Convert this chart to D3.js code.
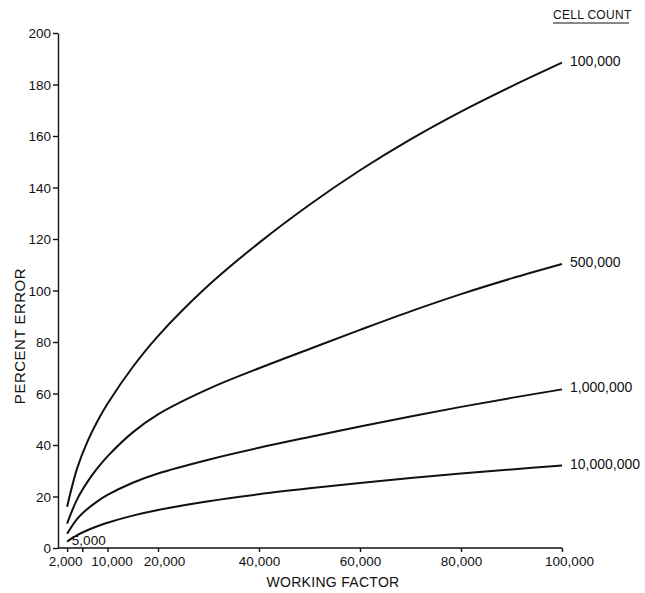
<!DOCTYPE html>
<html>
<head>
<meta charset="utf-8">
<script src="https://cdn.jsdelivr.net/npm/d3@7"></script>
<style>
  body { margin: 0; background: #fff; }
  svg { display: block; }
  text { font-family: "Liberation Sans", Arial, sans-serif; fill: #111; }
  .axis path, .axis line { stroke: #111; stroke-width: 1.4; }
</style>
</head>
<body>
<div id="chart"></div>
<script>
// working factor (x) sample points
var workingFactor = [2000, 4000, 6000, 8000, 10000, 15000, 20000, 30000, 40000, 50000, 60000, 70000, 80000, 90000, 100000];

// percent error for each cell count
var err100k = [16, 31, 41.2, 49.2, 56, 70.3, 82.3, 102, 118.5, 133.3, 146.7, 158.7, 169.5, 179.3, 188.5];
var err500k = [9.5, 19, 25.6, 31, 35.6, 44.9, 51.9, 61.8, 69.8, 77.3, 84.7, 91.9, 98.6, 104.7, 110.3];
var err1m = [5.5, 11.3, 15.1, 18.1, 20.6, 25.35, 28.95, 34.3, 38.9, 43.1, 47.2, 51.1, 54.8, 58.3, 61.6];
var err10m = [2.5, 5, 6.9, 8.46, 9.82, 12.57, 14.77, 18.17, 20.87, 23.17, 25.27, 27.17, 28.92, 30.52, 32];

var cellCounts = ["100,000", "500,000", "1,000,000", "10,000,000"];

var xTicks = [2000, 5000, 10000, 20000, 40000, 60000, 80000, 100000];
var xTickLabels = ["2,000", "5,000", "10,000", "20,000", "40,000", "60,000", "80,000", "100,000"];
var yTicks = [0, 20, 40, 60, 80, 100, 120, 140, 160, 180, 200];

var width = 645, height = 593;

var svg = d3.select("#chart").append("svg")
  .attr("width", width)
  .attr("height", height);

var x = d3.scaleLinear().domain([0, 100000]).range([57, 562]);
var y = d3.scaleLinear().domain([0, 200]).range([548, 33]);

// y axis
var yAxis = svg.append("g")
  .attr("class", "axis")
  .attr("transform", "translate(58,0)")
  .call(d3.axisLeft(y).tickValues(yTicks).tickSize(5).tickSizeOuter(0).tickPadding(2));
yAxis.selectAll("text")
  .style("font-size", "13.5px")
  .attr("dy", "0.36em");

// x axis
var labelShift = {2000: -2, 10000: 4, 20000: 6, 100000: 7};
var xAxis = svg.append("g")
  .attr("class", "axis")
  .attr("transform", "translate(0,548)")
  .call(d3.axisBottom(x).tickValues(xTicks).tickSize(4).tickSizeOuter(0)
    .tickFormat(function (d) { return xTickLabels[xTicks.indexOf(d)]; }));
xAxis.select(".domain").attr("d", "M" + 58 + ",0H" + x(100000));
xAxis.selectAll("text")
  .style("font-size", "13.5px")
  .attr("y", 8)
  .attr("dx", function (d) { return labelShift[d] || 0; })
  .attr("dy", "0.71em");
// the 5,000 label sits above the axis
xAxis.selectAll("text")
  .filter(function (d) { return d === 5000; })
  .attr("y", -3)
  .attr("dy", 0)
  .attr("dx", 6);

// axis titles
svg.append("text")
  .attr("transform", "translate(25,336) rotate(-90)")
  .attr("text-anchor", "middle")
  .style("font-size", "15px")
  .style("letter-spacing", "0.5px")
  .text("PERCENT ERROR");

svg.append("text")
  .attr("x", 333)
  .attr("y", 587)
  .attr("text-anchor", "middle")
  .style("font-size", "14px")
  .style("letter-spacing", "0.3px")
  .text("WORKING FACTOR");

// curves
var series = [err100k, err500k, err1m, err10m];

var line = d3.line()
  .x(function (d, i) { return x(workingFactor[i]); })
  .y(function (d) { return y(d); })
  .curve(d3.curveCatmullRom.alpha(0.5));

svg.selectAll("path.curve")
  .data(series)
  .enter()
  .append("path")
  .attr("class", "curve")
  .attr("fill", "none")
  .attr("stroke", "#111")
  .attr("stroke-width", 2)
  .attr("d", line);

// cell count labels at the curve ends
svg.selectAll("text.cell")
  .data(series)
  .enter()
  .append("text")
  .attr("class", "cell")
  .attr("x", x(100000) + 8)
  .attr("y", function (d) { return y(d[d.length - 1]) - 2; })
  .attr("dy", "0.35em")
  .style("font-size", "14px")
  .text(function (d, i) { return cellCounts[i]; });

svg.append("text")
  .attr("x", 553)
  .attr("y", 19)
  .style("font-size", "12px")
  .style("letter-spacing", "0.3px")
  .text("CELL COUNT");

svg.append("line")
  .attr("x1", 553).attr("x2", 629)
  .attr("y1", 23).attr("y2", 23)
  .attr("stroke", "#111")
  .attr("stroke-width", 1.2);
</script>
</body>
</html>
